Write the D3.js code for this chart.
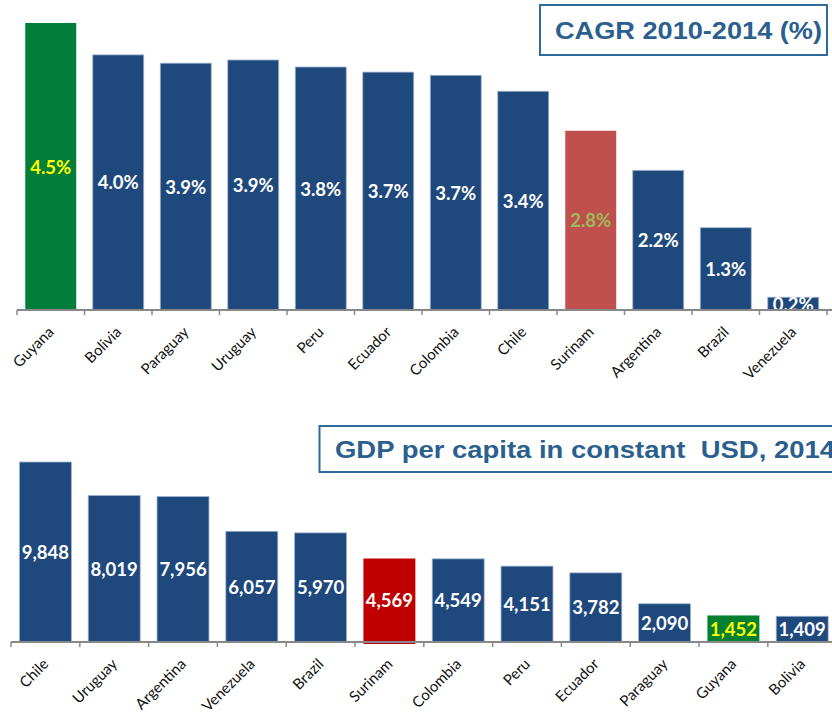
<!DOCTYPE html>
<html>
<head>
<meta charset="utf-8">
<script src="https://cdn.jsdelivr.net/npm/d3@7"></script>
<style>
  html, body { margin: 0; padding: 0; background: #fff; }
  svg { display: block; }
</style>
</head>
<body>
<svg id="chart" width="832" height="721"></svg>
<script>
// ---- Data ----
const cagrCountries = ["Guyana","Bolivia","Paraguay","Uruguay","Peru","Ecuador","Colombia","Chile","Surinam","Argentina","Brazil","Venezuela"];
const cagrValues = [4.5, 4.0, 3.87, 3.92, 3.81, 3.73, 3.68, 3.43, 2.81, 2.19, 1.29, 0.2];
const cagrTitle = "CAGR 2010-2014 (%)";

const gdpCountries = ["Chile","Uruguay","Argentina","Venezuela","Brazil","Surinam","Colombia","Peru","Ecuador","Paraguay","Guyana","Bolivia"];
const gdpValues = [9848, 8019, 7956, 6057, 5970, 4569, 4549, 4151, 3782, 2090, 1452, 1409];
const gdpTitle = "GDP per capita in constant  USD, 2014";

// ---- Styles ----
const BLUE = "#1F497D";
const svg = d3.select("#chart");
const labelFont = "Lato, 'DejaVu Sans', sans-serif";

function barColorTop(c) { return c === "Guyana" ? "#007E3A" : c === "Surinam" ? "#C0504D" : BLUE; }
function labelColorTop(c) { return c === "Guyana" ? "#FFFF00" : c === "Surinam" ? "#9BBB59" : "#FFFFFF"; }
function barColorBot(c) { return c === "Guyana" ? "#008030" : c === "Surinam" ? "#C00000" : BLUE; }
function labelColorBot(c) { return c === "Guyana" ? "#FFFF00" : "#FFFFFF"; }

function drawPanel(opts) {
  const g = svg.append("g");
  const x = d3.scaleBand().domain(opts.cats).range([opts.x0, opts.x1]).paddingInner(0.245).paddingOuter(0.1225);
  const y = d3.scaleLinear().domain([0, opts.vmax]).range([opts.axisY, opts.topY]);

  const clipId = "clip" + opts.id;
  svg.append("clipPath").attr("id", clipId)
    .append("rect").attr("x", 0).attr("y", 0).attr("width", 832).attr("height", opts.axisY);

  const data = opts.cats.map((c, i) => ({ c, v: opts.vals[i] }));

  g.selectAll("rect.bar").data(data).enter().append("rect")
    .attr("class", "bar")
    .attr("x", d => x(d.c))
    .attr("y", d => y(d.v))
    .attr("width", x.bandwidth())
    .attr("height", d => y(0) - y(d.v) + (d.c === "Surinam" && opts.id === "b" ? 2 : 0))
    .attr("fill", d => opts.barColor(d.c))
    .attr("stroke", d => opts.barColor(d.c) === BLUE ? "#9DB3D1" : "none")
    .attr("stroke-width", 0.8);

  g.append("g").attr("clip-path", `url(#${clipId})`)
    .selectAll("text.val").data(data).enter().append("text")
    .attr("class", "val")
    .attr("x", d => x(d.c) + x.bandwidth() / 2)
    .attr("y", d => (y(d.v) + y(0)) / 2)
    .attr("text-anchor", "middle")
    .attr("dominant-baseline", "central")
    .attr("font-family", labelFont)
    .attr("font-weight", "bold")
    .attr("font-size", 18.5)
    .attr("fill", d => opts.labelColor(d.c))
    .text(d => opts.fmt(d.v));

  // Axis
  const axisG = g.append("g");
  axisG.append("line")
    .attr("x1", opts.x0).attr("x2", 832)
    .attr("y1", opts.axisY).attr("y2", opts.axisY)
    .attr("stroke", "#888").attr("stroke-width", 2);
  const step = x.step();
  const ticks = d3.range(opts.cats.length + 1).map(i => opts.x0 + i * step);
  axisG.selectAll("line.tick").data(ticks).enter().append("line")
    .attr("x1", d => d).attr("x2", d => d)
    .attr("y1", opts.axisY).attr("y2", opts.axisY + 5)
    .attr("stroke", "#888").attr("stroke-width", 1.5);

  axisG.selectAll("text.cat").data(opts.cats).enter().append("text")
    .attr("class", "cat")
    .attr("transform", c => `translate(${x(c) + x.bandwidth() / 2 + 4},${opts.axisY + 23}) rotate(-45)`)
    .attr("text-anchor", "end")
    .attr("font-family", labelFont)
    .attr("font-size", 15)
    .attr("fill", "#111")
    .text(c => c);

  // Title box
  svg.append("rect")
    .attr("x", opts.boxX).attr("y", opts.boxY)
    .attr("width", opts.boxW).attr("height", opts.boxH)
    .attr("fill", "#fff").attr("stroke", "#2F6A9C").attr("stroke-width", 2);
  svg.append("text")
    .attr("x", opts.titleX).attr("y", opts.titleY)
    .attr("font-family", "'Liberation Sans', Arial, sans-serif")
    .attr("font-weight", "bold")
    .attr("font-size", 23.5)
    .attr("fill", "#2A5F8E")
    .attr("textLength", opts.titleLen)
    .attr("lengthAdjust", "spacingAndGlyphs")
    .style("white-space", "pre")
    .text(opts.title);
}

drawPanel({
  id: "t", cats: cagrCountries, vals: cagrValues, vmax: 4.5,
  x0: 17, x1: 827, axisY: 310, topY: 23,
  barColor: barColorTop, labelColor: labelColorTop,
  fmt: v => d3.format(".1f")(v) + "%",
  title: cagrTitle, boxX: 540, boxY: 5, boxW: 287, boxH: 50,
  titleX: 555, titleY: 38.5, titleLen: 267
});

drawPanel({
  id: "b", cats: gdpCountries, vals: gdpValues, vmax: 9848,
  x0: 11, x1: 836.6, axisY: 642, topY: 462,
  barColor: barColorBot, labelColor: labelColorBot,
  fmt: d3.format(","),
  title: gdpTitle, boxX: 319.5, boxY: 426, boxW: 530, boxH: 46,
  titleX: 335, titleY: 457.5, titleLen: 500
});
</script>
</body>
</html>
